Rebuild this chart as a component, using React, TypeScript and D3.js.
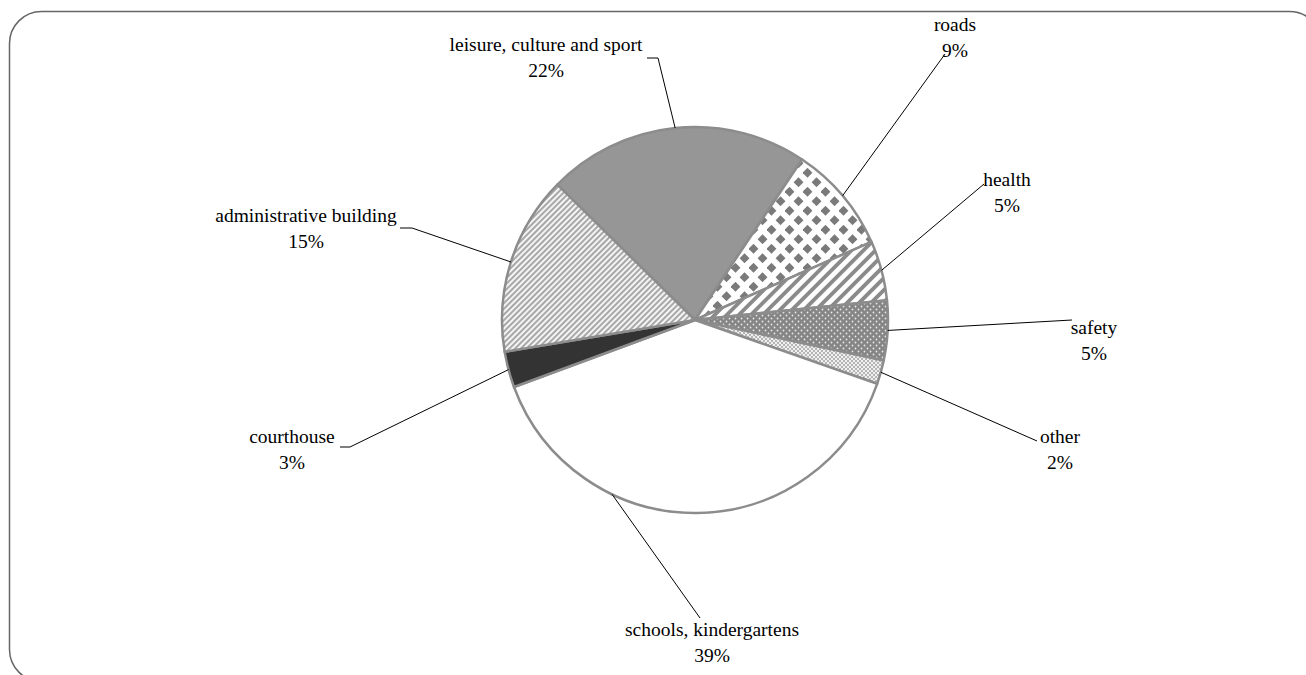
import React from "react";
import * as d3 from "d3";

const categories = [
  "leisure, culture and sport",
  "roads",
  "health",
  "safety",
  "other",
  "schools, kindergartens",
  "courthouse",
  "administrative building",
];
const values = [22, 9, 5, 5, 2, 39, 3, 15];

// layout (not data): label centre x, first baseline y, leader start points
const labelLayout: { cx: number; y: number; lx: number[]; ly: number; toX?: number }[] = [
  { cx: 546, y: 51, lx: [647, 658], ly: 58 },
  { cx: 955, y: 31, lx: [945, 945], ly: 54 },
  { cx: 1007, y: 186, lx: [984, 984], ly: 184 },
  { cx: 1094, y: 334, lx: [1072, 1072], ly: 320 },
  { cx: 1060, y: 443, lx: [1037, 1037], ly: 441 },
  { cx: 712, y: 636, lx: [700, 700], ly: 618, toX: 612 },
  { cx: 292, y: 443, lx: [340, 350], ly: 447 },
  { cx: 306, y: 222, lx: [400, 412], ly: 228 },
];

const fills = [
  "#969696",
  "url(#pDiamond)",
  "url(#pWide)",
  "url(#pDots)",
  "url(#pCheck)",
  "#ffffff",
  "#333333",
  "url(#pFine)",
];

const CX = 695;
const CY = 320;
const R = 193;
const FONT = "'Liberation Serif', 'DejaVu Serif', 'Times New Roman', Times, serif";

export default function App() {
  const start = (-45.5 * Math.PI) / 180;
  const pie = d3
    .pie<number>()
    .sort(null)
    .value((d) => d)
    .startAngle(start)
    .endAngle(start + 2 * Math.PI);
  const arcs = pie(values);
  const arc = d3.arc<d3.PieArcDatum<number>>().innerRadius(0).outerRadius(R);

  return (
    <svg
      width={1306}
      height={675}
      style={{ position: "absolute", left: 0, top: 0 }}
    >
      <defs>
        <pattern id="pDiamond" width={18} height={19} patternUnits="userSpaceOnUse">
          <rect width={18} height={19} fill="#fff" />
          <path d="M4.5,-0.2 L9.4,4.75 L4.5,9.7 L-0.4,4.75Z" fill="#7a7a7a" />
          <path d="M13.5,9.3 L18.4,14.25 L13.5,19.2 L8.6,14.25Z" fill="#7a7a7a" />
          <path d="M-4.5,9.3 L0.4,14.25 L-4.5,19.2 L-9.4,14.25Z" fill="#7a7a7a" />
        </pattern>
        <pattern id="pWide" width={8.5} height={8.5} patternUnits="userSpaceOnUse" patternTransform="rotate(45)">
          <rect width={8.5} height={8.5} fill="#fff" />
          <rect width={3.8} height={8.5} fill="#8a8a8a" />
        </pattern>
        <pattern id="pFine" width={4} height={4} patternUnits="userSpaceOnUse" patternTransform="rotate(45)">
          <rect width={4} height={4} fill="#f4f4f4" />
          <rect width={2} height={4} fill="#a8a8a8" />
        </pattern>
        <pattern id="pDots" width={6} height={6} patternUnits="userSpaceOnUse">
          <rect width={6} height={6} fill="#858585" />
          <circle cx={1.5} cy={1.5} r={0.9} fill="#e8e8e8" />
          <circle cx={4.5} cy={4.5} r={0.9} fill="#e8e8e8" />
        </pattern>
        <pattern id="pCheck" width={4} height={4} patternUnits="userSpaceOnUse">
          <rect width={4} height={4} fill="#f0f0f0" />
          <rect width={2} height={2} fill="#b5b5b5" />
          <rect x={2} y={2} width={2} height={2} fill="#b5b5b5" />
        </pattern>
      </defs>

      <rect
        x={9.5}
        y={11.5}
        width={1312}
        height={670}
        rx={32}
        ry={32}
        fill="#fff"
        stroke="#666"
        strokeWidth={1.5}
      />

      <g transform={`translate(${CX},${CY})`}>
        {arcs.map((a, i) => (
          <path
            key={i}
            d={arc(a) || ""}
            fill={fills[i]}
            stroke="#8c8c8c"
            strokeWidth={2.5}
            strokeLinejoin="round"
          />
        ))}
      </g>

      {arcs.map((a, i) => {
        const mid = (a.startAngle + a.endAngle) / 2;
        const L = labelLayout[i];
        let ex = CX + R * Math.sin(mid);
        let ey = CY - R * Math.cos(mid);
        if (L.toX !== undefined) {
          ex = L.toX;
          ey = CY + Math.sqrt(R * R - (L.toX - CX) * (L.toX - CX));
        }
        return (
          <polyline
            key={"l" + i}
            points={`${L.lx[0]},${L.ly} ${L.lx[1]},${L.ly} ${ex},${ey}`}
            fill="none"
            stroke="#000"
            strokeWidth={1}
          />
        );
      })}

      {categories.map((c, i) => {
        const L = labelLayout[i];
        return (
          <text
            key={"t" + i}
            textAnchor="middle"
            fill="#000"
            style={{ fontFamily: FONT, fontSize: "19.5px" }}
          >
            <tspan x={L.cx} y={L.y}>
              {c}
            </tspan>
            <tspan x={L.cx} y={L.y + 25.5}>
              {values[i] + "%"}
            </tspan>
          </text>
        );
      })}
    </svg>
  );
}
